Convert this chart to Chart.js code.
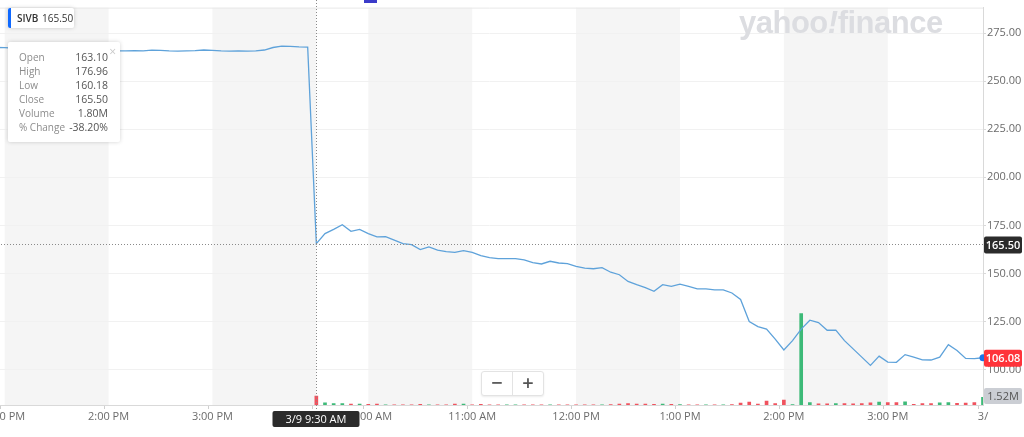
<!DOCTYPE html>
<html>
<head>
<meta charset="utf-8">
<script src="https://cdn.jsdelivr.net/npm/chart.js@4.4.1/dist/chart.umd.min.js"></script>
<style>
  body { margin: 0; width: 1024px; height: 437px; overflow: hidden; background: #fff; position: relative; font-family: 'Open Sans', sans-serif; }
  #wrap { position: absolute; left: -8px; top: 0; width: 1032px; height: 437px; }
  .legend { position: absolute; left: 8px; top: 8px; width: 66px; height: 20px; background: #fff; box-shadow: 0 0 4px rgba(0,0,0,.18); border-radius: 2px; font-family: 'Open Sans', sans-serif; font-size: 10px; color: #333; line-height: 20px; }
  .legend i { position: absolute; left: 0; top: 0; width: 3px; height: 20px; background: #0f69ff; border-radius: 2px 0 0 2px; }
  .legend span { position: absolute; left: 9px; font-weight: 600; }
  .legend b { position: absolute; left: 34px; font-weight: 400; }
  .tip { position: absolute; left: 8px; top: 42px; width: 112px; height: 100px; background: #fff; box-shadow: 0 0 4px rgba(0,0,0,.18); border-radius: 2px; font-family: 'Open Sans', sans-serif; font-size: 10px; }
  .tip .x { position: absolute; right: 4px; top: 1px; color: #c8c8c8; font-size: 12px; }
  .tip .row { position: absolute; left: 11px; width: 89px; height: 14px; line-height: 14px; }
  .tip .row .k { color: #8c8c8c; }
  .tip .row .v { position: absolute; right: 0; top: 0; color: #555; font-size: 10.5px; }
  .wm { position: absolute; left: 739px; top: 5px; font-family: 'Liberation Sans', Arial, sans-serif; font-weight: 700; font-size: 31px; letter-spacing: -0.5px; color: #dcdde1; }
  .wm em { font-style: italic; }
  .zoom { position: absolute; left: 481px; top: 371px; width: 61px; height: 23px; background: #fff; border: 1px solid #e3e3e3; border-radius: 3px; box-shadow: 0 1px 2px rgba(0,0,0,.08); color: #555; font-size: 20px; line-height: 22px; }
  .zoom span { position: absolute; top: 0; width: 30px; text-align: center; font-weight: 600; }
  .zoom .sep { position: absolute; left: 30px; top: 0; width: 1px; height: 23px; background: #e3e3e3; }
  .flag { position: absolute; left: 364px; top: 0; width: 13px; height: 3px; background: #3b3bc9; }
</style>
</head>
<body>
<div id="wrap"><canvas id="c" width="1032" height="437"></canvas></div>
<div class="flag"></div>
<div class="wm">yahoo<em>!</em>finance</div>
<div class="legend"><i></i><span>SIVB</span><b>165.50</b></div>
<div class="tip">
  <div class="x">×</div>
  <div class="row" style="top:8px"><span class="k">Open</span><span class="v">163.10</span></div>
  <div class="row" style="top:22px"><span class="k">High</span><span class="v">176.96</span></div>
  <div class="row" style="top:36px"><span class="k">Low</span><span class="v">160.18</span></div>
  <div class="row" style="top:50px"><span class="k">Close</span><span class="v">165.50</span></div>
  <div class="row" style="top:64px"><span class="k">Volume</span><span class="v">1.80M</span></div>
  <div class="row" style="top:78px"><span class="k">% Change</span><span class="v">-38.20%</span></div>
</div>
<div class="zoom"><span style="left:0">−</span><div class="sep"></div><span style="left:31px">+</span></div>

<script>
/* ===== DATA ===== */
// 5-minute slots: 3/8 12:55 PM – 3:55 PM, then 3/9 9:30 AM – 3:55 PM
function slots(day, from, to) {
  const out = [];
  for (let m = from; m <= to; m += 5) {
    out.push(day + ' ' + String(Math.floor(m / 60)).padStart(2, '0') + ':' + String(m % 60).padStart(2, '0'));
  }
  return out;
}
const day1Times = slots('3/8', 12 * 60 + 55, 15 * 60 + 55);
const day2Times = slots('3/9', 9 * 60 + 30, 15 * 60 + 55);

const day1Price = [267.6, 267.5, 267.3, 267.0, 266.8, 266.9, 266.6, 266.5, 266.7, 266.4,
                   266.3, 266.2, 266.1, 266.0, 265.9, 265.9, 266.0, 265.9, 266.2, 266.1,
                   265.8, 265.7, 265.9, 266.0, 266.3, 266.1, 265.8, 265.7, 265.8, 265.7,
                   265.9, 266.3, 267.6, 268.3, 268.2, 267.9, 267.8];
const day2Price = [165.5, 170.7, 172.9, 175.3, 171.9, 172.9, 170.7, 169.0, 169.1, 167.3,
                   165.5, 165.0, 162.4, 163.8, 162.1, 161.3, 160.9, 161.8, 160.9, 159.2,
                   158.2, 157.7, 157.7, 157.7, 157.0, 155.6, 154.9, 156.3, 155.4, 155.1,
                   153.7, 152.7, 152.4, 153.0, 150.6, 149.3, 145.8, 144.1, 142.6, 140.7,
                   144.1, 143.2, 144.4, 143.2, 141.9, 141.9, 141.4, 141.4, 139.8, 136.4,
                   124.9, 122.3, 121.0, 115.8, 110.1, 115.0, 121.0, 125.6, 124.4, 120.4,
                   120.5, 115.0, 110.7, 106.4, 102.1, 106.9, 103.8, 103.7, 107.7, 106.4,
                   105.0, 104.9, 106.4, 112.9, 109.8, 105.7, 105.6, 106.08];
// volume in millions (only the 3/9 session shows bars)
const day2Vol   = [1.80, 0.45, 0.30, 0.30, 0.20, 0.20, 0.15, 0.20, 0.03, 0.03,
                   0.03, 0.03, 0.15, 0.03, 0.03, 0.03, 0.20, 0.20, 0.03, 0.15,
                   0.03, 0.03, 0.03, 0.03, 0.03, 0.03, 0.03, 0.03, 0.03, 0.03,
                   0.03, 0.03, 0.03, 0.03, 0.10, 0.20, 0.30, 0.20, 0.20, 0.15,
                   0.20, 0.15, 0.10, 0.03, 0.03, 0.03, 0.03, 0.03, 0.10, 0.40,
                   0.60, 0.20, 0.80, 0.30, 1.00, 0.10, 18.4, 0.50, 0.25, 0.25,
                   0.30, 0.30, 0.25, 0.30, 0.45, 0.60, 0.50, 0.50, 0.65, 0.15,
                   0.30, 0.30, 0.45, 0.50, 0.35, 0.40, 0.50, 1.52];

const yTicks    = [100, 125, 150, 175, 200, 225, 250, 275];
const tickAt    = ['3/8 13:00', '3/8 14:00', '3/8 15:00', '3/9 09:30', '3/9 10:00', '3/9 11:00', '3/9 12:00', '3/9 13:00', '3/9 14:00', '3/9 15:00', '3/9 15:55'];
const tickText  = ['1:00 PM', '2:00 PM', '3:00 PM', '9:30 AM', '10:00 AM', '11:00 AM', '12:00 PM', '1:00 PM', '2:00 PM', '3:00 PM', '3/'];
const bandFrom  = ['3/8 13:00', '3/8 15:00', '3/9 10:00', '3/9 12:00', '3/9 14:00'];
const bandTo    = ['3/8 14:00', '3/9 09:30', '3/9 11:00', '3/9 13:00', '3/9 15:00'];

const crossTime  = '3/9 09:30';
const crossPrice = 165.50;
const crossText  = '3/9 9:30 AM';

const times  = day1Times.concat(day2Times);
const prices = day1Price.concat(day2Price);
const vols   = day1Times.map(() => null).concat(day2Vol);
const last   = prices.length - 1;

/* ===== HELPERS ===== */
function box(ctx, x, y, w, h, bg, text, fg, font) {
  ctx.fillStyle = bg;
  ctx.beginPath();
  ctx.roundRect(x, y, w, h, 2);
  ctx.fill();
  ctx.fillStyle = fg;
  ctx.font = font;
  ctx.textAlign = 'center';
  ctx.textBaseline = 'middle';
  ctx.fillText(text, x + w / 2, y + h / 2 + 0.5);
}

const bandsPlugin = {
  id: 'bands',
  beforeDraw(chart) {
    const { ctx, chartArea: a, scales: { x } } = chart;
    ctx.save();
    ctx.fillStyle = '#f5f5f5';
    bandFrom.forEach((f, i) => {
      const x0 = x.getPixelForValue(times.indexOf(f));
      const x1 = x.getPixelForValue(times.indexOf(bandTo[i]));
      ctx.fillRect(x0, a.top, x1 - x0, a.bottom - a.top);
    });
    ctx.strokeStyle = '#e8e8e8';
    ctx.lineWidth = 1;
    ctx.beginPath();
    ctx.moveTo(a.left, a.top + 0.5);
    ctx.lineTo(a.right, a.top + 0.5);
    ctx.stroke();
    ctx.restore();
  }
};

const overlayPlugin = {
  id: 'overlay',
  afterDraw(chart) {
    const { ctx, chartArea: a, scales: { x, y, yv } } = chart;
    const cx = Math.round(x.getPixelForValue(times.indexOf(crossTime))) + 0.5;
    const cy = Math.round(y.getPixelForValue(crossPrice)) + 0.5;
    ctx.save();
    ctx.strokeStyle = '#8a8a8a';
    ctx.lineWidth = 1;
    ctx.setLineDash([1, 2]);
    ctx.beginPath();
    ctx.moveTo(cx, 0); ctx.lineTo(cx, a.bottom + 6);
    ctx.moveTo(0, cy); ctx.lineTo(a.right, cy);
    ctx.stroke();
    ctx.setLineDash([]);

    const bx = a.right + 1;
    box(ctx, bx, cy - 8, 38, 17, '#2b2b2b', crossPrice.toFixed(2), '#fff', '600 11px "Open Sans"');
    const ly = y.getPixelForValue(prices[last]);
    box(ctx, bx, ly - 8, 38, 17, '#ff333a', prices[last].toFixed(2), '#fff', '600 11px "Open Sans"');
    const vy = (yv.getPixelForValue(vols[last]) + a.bottom) / 2;
    box(ctx, bx, Math.min(vy - 8, a.bottom - 17), 38, 16, '#cbced4', day2Vol[day2Vol.length - 1].toFixed(2) + 'M', '#555', '11px "Open Sans"');
    box(ctx, cx - 44, a.bottom + 6, 87, 16, '#2b2b2b', crossText, '#fff', '11px "Open Sans"');
    ctx.restore();
  }
};

/* ===== CHART ===== */
new Chart(document.getElementById('c'), {
  data: {
    labels: times,
    datasets: [
      {
        type: 'line', yAxisID: 'y', order: 1,
        data: prices,
        borderColor: '#5ea2da', borderWidth: 1.3,
        pointRadius: ctx => ctx.dataIndex === last ? 3.5 : 0,
        pointBackgroundColor: '#1a73e8', pointBorderWidth: 0,
        tension: 0
      },
      {
        type: 'bar', yAxisID: 'yv', order: 2,
        data: vols,
        barThickness: 3,
        backgroundColor: ctx => {
          const i = ctx.dataIndex;
          return i > 0 && prices[i] >= prices[i - 1] ? '#3dba78' : '#f0525e';
        }
      }
    ]
  },
  options: {
    responsive: false,
    animation: false,
    events: [],
    layout: { padding: { top: 3 } },
    plugins: { legend: { display: false }, tooltip: { enabled: false } },
    scales: {
      x: {
        type: 'category',
        offset: false,
        afterFit: s => { s.height = 32; },
        border: { display: true, color: '#d9d9d9' },
        grid: {
          drawOnChartArea: false, tickLength: 4,
          color: ctx => tickAt.includes(times[ctx.index]) ? '#cfcfcf' : 'rgba(0,0,0,0)'
        },
        ticks: {
          autoSkip: false, maxRotation: 0, padding: 1,
          color: '#6b6b6b', font: { family: 'Open Sans', size: 11 },
          callback: (v, i) => {
            const k = tickAt.indexOf(times[i]);
            return k >= 0 ? tickText[k] : '';
          }
        }
      },
      y: {
        position: 'right',
        min: 81.47, max: 288.38,
        afterFit: s => { s.width = 41; },
        afterBuildTicks: s => { s.ticks = yTicks.map(v => ({ value: v })); },
        border: { display: true, color: '#d9d9d9' },
        grid: { color: '#f1f1f1', tickLength: 3, tickColor: '#d9d9d9' },
        ticks: {
          padding: 1, color: '#6b6b6b', font: { family: 'Open Sans', size: 11 },
          callback: v => Number(v).toFixed(2)
        }
      },
      yv: { display: false, min: 0, max: 80 }
    }
  },
  plugins: [bandsPlugin, overlayPlugin]
});
</script>
</body>
</html>
